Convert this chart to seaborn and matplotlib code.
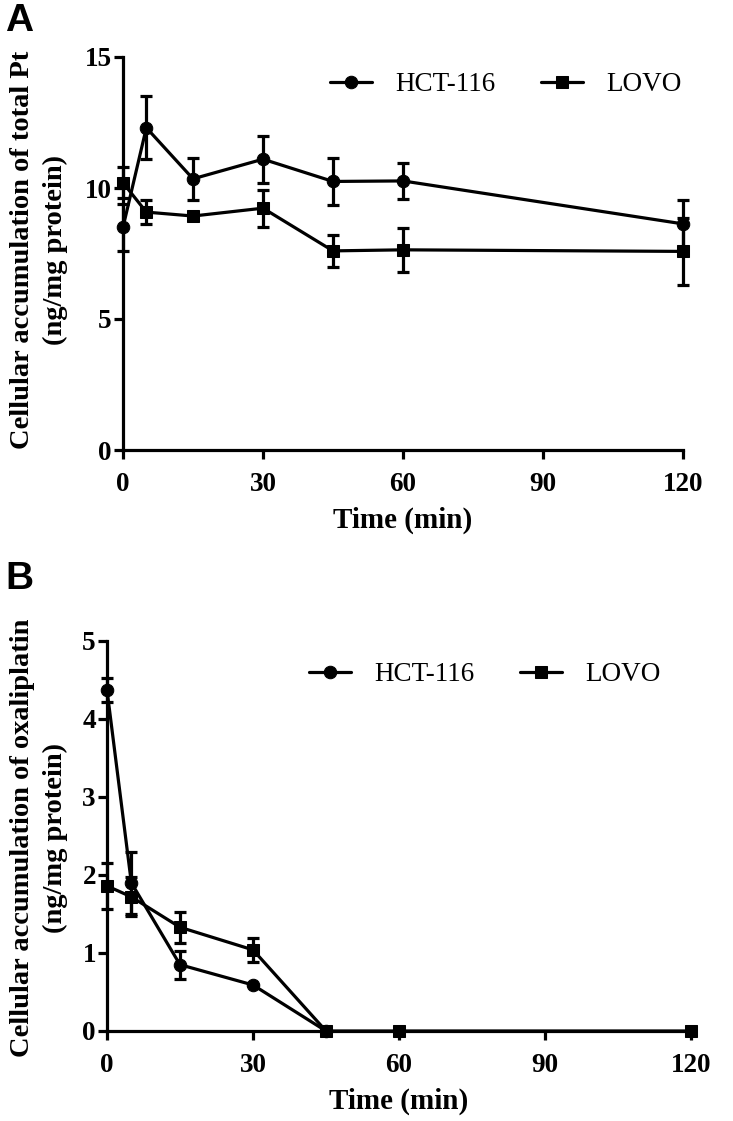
import matplotlib
matplotlib.use("Agg")
import matplotlib.pyplot as plt
import seaborn as sns
import numpy as np
import pandas as pd

# ---- data ----
time_a = [0, 5, 15, 30, 45, 60, 120]
hct_a = [8.5, 12.3, 10.35, 11.1, 10.25, 10.27, 8.63]
hct_a_err = [0.9, 1.2, 0.8, 0.9, 0.9, 0.7, 0.9]
lovo_a = [10.2, 9.08, 8.93, 9.23, 7.6, 7.64, 7.58]
lovo_a_err = [0.6, 0.45, 0.0, 0.7, 0.6, 0.83, 1.27]

time_b_hct = [0, 5, 15, 30, 45]
hct_b = [4.37, 1.9, 0.85, 0.59, 0.0]
hct_b_err = [0.15, 0.4, 0.18, 0.0, 0.0]
time_b_lovo = [0, 5, 15, 30, 45, 60, 120]
lovo_b = [1.86, 1.72, 1.33, 1.04, 0.0, 0.0, 0.0]
lovo_b_err = [0.3, 0.25, 0.2, 0.15, 0.0, 0.0, 0.0]

x_ticks = [0, 30, 60, 90, 120]
y_ticks_a = [0, 5, 10, 15]
y_ticks_b = [0, 1, 2, 3, 4, 5]

sns.set_theme(style="ticks")
plt.rcParams['font.family'] = ['Liberation Serif', 'DejaVu Serif']
plt.rcParams['text.color'] = 'black'
plt.rcParams['axes.labelcolor'] = 'black'
plt.rcParams['xtick.color'] = 'black'
plt.rcParams['ytick.color'] = 'black'

fig = plt.figure(figsize=(7.33, 11.21), dpi=100)
ax_a = fig.add_axes([123/733, 1-450/1121, 560/733, 393/1121])
ax_b = fig.add_axes([107/733, 1-1031/1121, 584/733, 390/1121])

LW = 2.3
MS_C = 9
MS_S = 8.5

def draw(ax, series):
    for t, v, e, marker, ms, label in series:
        df = pd.DataFrame({"t": t, "v": v})
        sns.lineplot(data=df, x="t", y="v", ax=ax, color="black", linewidth=LW,
                     marker=marker, markersize=ms, markeredgecolor="black",
                     label=label, clip_on=False, zorder=3)
        ax.errorbar(t, v, yerr=e, fmt="none", ecolor="black", elinewidth=LW,
                    capsize=4.5, capthick=LW, clip_on=False, zorder=2)

def style(ax, ylim, yticks, ylabel):
    ax.set_xlim(0, 120)
    ax.set_ylim(*ylim)
    ax.set_xticks(x_ticks)
    ax.set_yticks(yticks)
    ax.set_xticklabels([str(x) for x in x_ticks], fontsize=19.5, fontweight="bold")
    ax.set_yticklabels([str(y) for y in yticks], fontsize=19.5, fontweight="bold")
    for s in ["top", "right"]:
        ax.spines[s].set_visible(False)
    for s in ["left", "bottom"]:
        ax.spines[s].set_linewidth(LW)
        ax.spines[s].set_color("black")
    ax.tick_params(axis="both", length=6.5, width=LW, color="black")
    ax.tick_params(axis="x", pad=9)
    ax.tick_params(axis="y", pad=1.5)
    ax.set_xlabel("Time (min)", fontsize=21, fontweight="bold", labelpad=7)
    ax.set_ylabel(ylabel, fontsize=20.5, fontweight="bold", linespacing=1.4)

draw(ax_a, [(time_a, hct_a, hct_a_err, "o", MS_C, "HCT-116"),
            (time_a, lovo_a, lovo_a_err, "s", MS_S, "LOVO")])
draw(ax_b, [(time_b_hct, hct_b, hct_b_err, "o", MS_C, "HCT-116"),
            (time_b_lovo, lovo_b, lovo_b_err, "s", MS_S, "LOVO")])

style(ax_a, (0, 15), y_ticks_a, "Cellular accumulation of total Pt\n(ng/mg protein)")
style(ax_b, (0, 5), y_ticks_b, "Cellular accumulation of oxaliplatin\n(ng/mg protein)")
ax_a.yaxis.set_label_coords(68/733, 1-250/1121, transform=fig.transFigure)
ax_b.yaxis.set_label_coords(68/733, 1-838/1121, transform=fig.transFigure)

for ax, anchor in [(ax_a, (330/733, 1-72/1121)), (ax_b, (309/733, 1-662/1121))]:
    ax.legend(loc="upper left", bbox_to_anchor=anchor, bbox_transform=fig.transFigure,
              ncol=2, frameon=False, fontsize=19.5, handlelength=1.55,
              handletextpad=0.85, columnspacing=1.7, borderpad=0, borderaxespad=0)

fig.text(5/733, 1-3/1121, "A", fontsize=28, fontweight="bold", color="black",
         family=["Liberation Sans", "DejaVu Sans"], va="top", ha="left")
fig.text(5/733, 1-561/1121, "B", fontsize=28, fontweight="bold", color="black",
         family=["Liberation Sans", "DejaVu Sans"], va="top", ha="left")

fig.savefig("out.png", dpi=100)
